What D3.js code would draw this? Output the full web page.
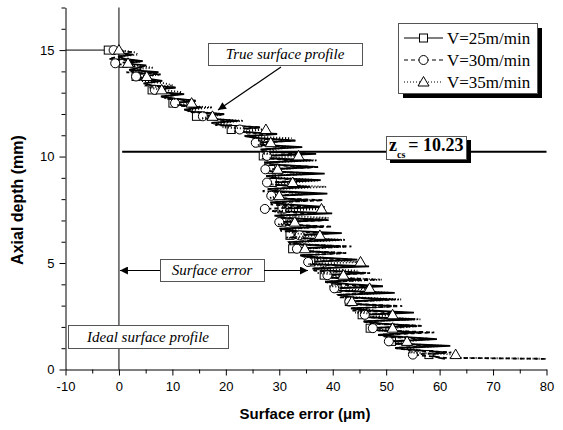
<!DOCTYPE html>
<html><head><meta charset="utf-8">
<script src="https://cdn.jsdelivr.net/npm/d3@7/dist/d3.min.js"></script>
<style>body{margin:0;background:#fff}</style>
</head><body><svg id="c" width="563" height="430"></svg>
<script>
// Axial depth (mm) at each sampled point, shared by the three series
const depth = [15.00,14.90,14.79,14.69,14.59,14.48,14.38,14.28,14.17,14.07,13.96,13.86,13.76,13.65,13.55,13.44,13.34,13.24,13.13,13.03,12.93,12.82,12.72,12.62,12.51,12.41,12.31,12.20,12.10,11.99,11.89,11.79,11.68,11.58,11.48,11.37,11.27,11.17,11.06,10.96,10.86,10.75,10.65,10.55,10.44,10.34,10.23,10.13,10.03,9.92,9.82,9.72,9.61,9.51,9.40,9.30,9.20,9.09,8.99,8.89,8.78,8.68,8.58,8.47,8.37,8.26,8.16,8.06,7.95,7.85,7.75,7.64,7.54,7.44,7.33,7.23,7.12,7.02,6.92,6.81,6.71,6.61,6.50,6.40,6.30,6.19,6.09,5.98,5.88,5.78,5.67,5.57,5.47,5.36,5.26,5.16,5.05,4.95,4.84,4.74,4.64,4.53,4.43,4.33,4.22,4.12,4.01,3.91,3.81,3.70,3.60,3.50,3.39,3.29,3.19,3.08,2.98,2.87,2.77,2.67,2.57,2.46,2.36,2.26,2.15,2.05,1.94,1.84,1.74,1.63,1.53,1.43,1.32,1.22,1.11,1.01,0.91,0.80,0.70,0.55,0.50];
// Surface error (um) for each cutting speed
const v25 = [-2,-0.7,2.6,-0.15,1.1,4.4,0.8,5.1,3.5,1.9,7.4,2.8,3.2,5.65,8.1,4.6,6.1,10.6,6.2,7.7,12.2,7.85,10.5,14.3,10.1,11.8,15.5,12.2,13.9,19.7,14.5,16.4,22.3,17.3,19.2,26.4,21.0,22.6,29.6,23.5,26.3,33.0,26.0,27.0,34.3,26.5,27.7,36.9,27.0,28.1,36.1,27.2,30.2,36.3,28.4,28.5,38.5,27.6,29.6,37.7,28.7,28.8,35.8,27.9,29.9,39.0,29.0,29.1,35.2,28.3,31.4,38.5,30.5,29.8,39.9,29.1,31.2,38.4,30.5,30.7,37.9,30.2,33.4,41.7,32.0,32.2,41.4,31.8,34.1,41.5,32.5,34.2,40.5,33.9,37.2,44.6,35.9,36.4,46.8,36.2,39.6,46.0,38.4,38.8,45.2,38.6,43.0,49.4,40.8,41.2,51.6,41.0,43.4,50.8,43.1,43.6,51.0,43.4,46.8,55.2,45.5,46.0,55.4,45.8,49.2,55.6,47.0,48.5,56.0,48.5,53.0,59.5,51.0,51.5,62.0,51.7,55.4,61.2,58.0,60,61];
const v30 = [-1,2.3,1.6,-0.15,-1.9,4.4,-0.7,1.1,4.5,3.9,1.4,7.8,3.2,3.65,7.1,5.6,5.1,10.6,6.7,6.7,11.2,8.85,8.5,14.3,10.5,10.8,14.5,13.2,12.9,19.7,15.7,15.4,21.3,18.3,18.2,26.4,22.6,21.6,28.6,24.5,25.3,33.0,25.6,26.0,31.3,27.5,26.7,35.9,27.7,27.1,33.1,28.2,27.2,37.3,27.4,28.5,36.5,27.6,28.6,35.7,27.7,28.8,34.8,27.9,26.9,37.0,28.5,28.1,38.2,29.3,28.4,35.5,27.3,28.8,36.9,30.1,30.2,39.4,30.0,30.7,39.9,30.2,30.4,39.7,33.8,32.2,38.4,31.8,32.1,43.5,33.3,34.2,42.5,33.9,35.2,43.6,35.4,36.4,43.8,36.2,36.6,47.0,39.0,38.8,48.2,38.6,40.0,47.4,40.3,41.2,48.6,41.0,41.4,51.8,43.1,43.6,53.0,43.4,43.8,53.2,46.0,46.0,54.4,45.8,47.2,56.6,47.5,48.5,59.0,48.5,50.0,58.5,50.5,51.5,59.0,51.7,54.4,62.2,55.0,61,80];
const v35 = [0,2.8,3.6,-0.2,0.1,4.4,1.7,3.1,6.5,1.9,4.4,7.8,5.2,4.7,4.1,8.6,10.1,5.6,8.0,11.7,11.2,7.9,9.5,14.3,13.6,10.8,17.5,13.2,14.9,19.7,17.5,15.4,23.3,18.3,21.2,19.4,27.5,23.1,24.6,23.5,32.3,26.0,28.4,26.0,33.3,28.0,29.7,26.9,33.6,28.1,37.1,27.2,29.2,36.3,29.7,28.5,35.5,27.6,30.6,37.7,32.5,28.8,38.8,29.9,28.9,36.0,30.0,28.1,37.2,29.3,32.4,30.5,37.9,28.8,30.9,30.1,39.2,31.4,32.9,29.7,36.9,33.2,31.4,32.7,37.6,31.2,42.4,32.8,35.1,42.5,34.8,34.2,42.5,33.9,38.2,36.6,45.2,35.4,38.8,37.2,44.6,37.0,42.0,39.8,49.2,39.6,41.0,39.4,46.9,42.2,50.6,41.0,44.4,52.8,43.6,42.6,52.0,44.4,47.8,44.2,51.2,47.0,56.4,45.8,48.2,56.6,51.2,48.5,57.0,48.5,52.0,58.5,53.9,51.5,61.0,53.7,56.4,54.2,63.0,64,80];
const seriesNames = ["V=25m/min","V=30m/min","V=35m/min"];
const xTicks = [-10,0,10,20,30,40,50,60,70,80];
const xMinor = [-5,5,15,25,35,45,55,65,75];
const yTicks = [0,5,10,15];
const yMinor = [1,2,3,4,6,7,8,9,11,12,13,14,16,17];
const zcs = 10.23;
const startDepth = 15;
const markerEvery = 6;
const lastMarker = 138;

const svg = d3.select("#c");
const x = d3.scaleLinear().domain([-10,80]).range([65.5,546.5]);
const y = d3.scaleLinear().domain([0,17]).range([369.5,7.5]);

// axes
const gx = svg.append("g").attr("transform","translate(0,369.5)");
gx.call(d3.axisBottom(x).tickValues(xTicks).tickSize(6).tickSizeOuter(0).tickPadding(6).tickFormat(d=>String(d)));
gx.append("g").call(d3.axisBottom(x).tickValues(xMinor).tickSize(4).tickFormat("")).select(".domain").remove();
const gy = svg.append("g").attr("transform","translate(65.5,0)");
gy.call(d3.axisLeft(y).tickValues(yTicks).tickSize(6).tickSizeOuter(0).tickPadding(5).tickFormat(d=>String(d)));
gy.append("g").call(d3.axisLeft(y).tickValues(yMinor).tickSize(4).tickFormat("")).select(".domain").remove();
svg.selectAll(".tick text").attr("font-family","Liberation Sans, Arial, sans-serif").attr("font-size",13).attr("fill","#000");
svg.selectAll(".domain,.tick line").attr("stroke","#000");

// axis titles
svg.append("text").attr("x",305).attr("y",419).attr("text-anchor","middle")
  .attr("font-family","Liberation Sans, Arial, sans-serif").attr("font-weight","bold").attr("font-size",15)
  .text("Surface error (μm)");
svg.append("text").attr("transform","translate(23,200) rotate(-90)").attr("text-anchor","middle")
  .attr("font-family","Liberation Sans, Arial, sans-serif").attr("font-weight","bold").attr("font-size",16)
  .text("Axial depth (mm)");

// reference lines
svg.append("line").attr("x1",x(0)).attr("x2",x(0)).attr("y1",y(0)).attr("y2",y(17)).attr("stroke","#000");
svg.append("line").attr("x1",x(-10)).attr("x2",x(0)).attr("y1",y(startDepth)).attr("y2",y(startDepth)).attr("stroke","#000");
svg.append("line").attr("x1",x(0.6)).attr("x2",x(80)).attr("y1",y(zcs)).attr("y2",y(zcs)).attr("stroke","#000").attr("stroke-width",2);

// series: line then symbols, one series after another
const series = [v25,v30,v35];
const dashes = [null,"4,3","1,2"];
const line = d3.line().x(d=>x(d[0])).y(d=>y(d[1]));
function marker(g,k,cx,cy){
  if(k===0) g.append("rect").attr("x",cx-4).attr("y",cy-4).attr("width",8).attr("height",8);
  else if(k===1) g.append("circle").attr("cx",cx).attr("cy",cy).attr("r",4.5);
  else g.append("path").attr("d",`M${cx},${cy-5.5}L${cx+5.5},${cy+4}L${cx-5.5},${cy+4}Z`);
}
series.forEach((s,k)=>{
  const pts = s.map((v,i)=>[v,depth[i]]);
  svg.append("path").attr("d",line(pts)).attr("fill","none").attr("stroke","#000")
    .attr("stroke-width",1.8).attr("stroke-linejoin","miter").attr("stroke-miterlimit",3).attr("stroke-dasharray",dashes[k]);
  const g = svg.append("g").attr("fill","#fff").attr("stroke","#000").attr("stroke-width",1);
  s.forEach((v,i)=>{ if(i%markerEvery===0 && i<=lastMarker) marker(g,k,x(v),y(depth[i])); });
});

// arrow marker
const defs = svg.append("defs");
defs.append("marker").attr("id","ah").attr("viewBox","0 0 10 10").attr("refX",10).attr("refY",5)
  .attr("markerWidth",12).attr("markerHeight",8).attr("markerUnits","userSpaceOnUse").attr("orient","auto")
  .append("path").attr("d","M0,0L10,5L0,10Z").attr("fill","#000");

function box(x0,y0,w,h,label){
  svg.append("rect").attr("x",x0+0.5).attr("y",y0+0.5).attr("width",w).attr("height",h).attr("fill","#fff").attr("stroke","#555");
  svg.append("text").attr("x",x0+w/2).attr("y",y0+h-6).attr("text-anchor","middle")
    .attr("font-family","Liberation Serif, Times New Roman, serif").attr("font-style","italic").attr("font-size",15).text(label);
}
box(208,43,154,22,"True surface profile");
svg.append("line").attr("x1",281).attr("y1",67).attr("x2",218).attr("y2",110).attr("stroke","#000").attr("stroke-width",1.2).attr("marker-end","url(#ah)");
box(160,259,104,22,"Surface error");
svg.append("line").attr("x1",160).attr("y1",270.5).attr("x2",x(0)+1).attr("y2",270.5).attr("stroke","#000").attr("marker-end","url(#ah)");
svg.append("line").attr("x1",264).attr("y1",270.5).attr("x2",308).attr("y2",270.5).attr("stroke","#000").attr("marker-end","url(#ah)");
box(68,325,160,23,"Ideal surface profile");

// zcs label
svg.append("rect").attr("x",390).attr("y",140).attr("width",81).attr("height",23).attr("fill","#000");
svg.append("rect").attr("x",386.5).attr("y",136.5).attr("width",80).attr("height",23).attr("fill","#fff").attr("stroke","#555");
const zt = svg.append("text").attr("x",389).attr("y",151).attr("font-family","Liberation Serif, Times New Roman, serif").attr("font-weight","bold").attr("font-size",18);
zt.append("tspan").text("z");
zt.append("tspan").attr("font-size",10).attr("dy",7).text("cs");
zt.append("tspan").attr("dy",-7).attr("dx",3).text("= "+zcs.toFixed(2));

// legend
svg.append("rect").attr("x",403).attr("y",28).attr("width",139).attr("height",70).attr("fill","#000");
svg.append("rect").attr("x",398.5).attr("y",23.5).attr("width",139).attr("height",70).attr("fill","#fff").attr("stroke","#555");
seriesNames.forEach((nm,k)=>{
  const ly = 38 + k*22;
  svg.append("line").attr("x1",404).attr("x2",443).attr("y1",ly).attr("y2",ly).attr("stroke","#000").attr("stroke-width",1.2).attr("stroke-dasharray",dashes[k]);
  const g = svg.append("g").attr("fill","#fff").attr("stroke","#000");
  marker(g,k,423.5,ly);
  svg.append("text").attr("x",447).attr("y",ly+6).attr("font-family","Liberation Serif, Times New Roman, serif").attr("font-size",17).text(nm);
});
</script></body></html>
